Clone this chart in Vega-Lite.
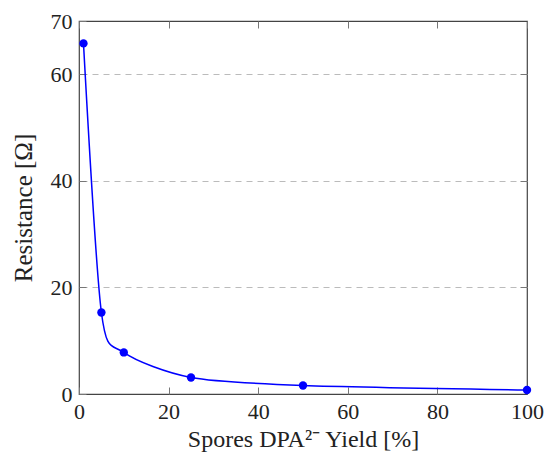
{
  "$schema": "https://vega.github.io/schema/vega-lite/v6.json",
  "width": 448,
  "height": 373,
  "autosize": "none",
  "padding": {"left": 79, "top": 21, "right": 17, "bottom": 60},
  "background": "white",
  "config": {
    "view": {"stroke": "#444444", "strokeWidth": 1.2},
    "font": "Liberation Serif"
  },
  "data": {
    "values": [
      {"yield": 1, "resistance": 65.8},
      {"yield": 5, "resistance": 15.3},
      {"yield": 10, "resistance": 7.8},
      {"yield": 25, "resistance": 3.1},
      {"yield": 50, "resistance": 1.6},
      {"yield": 100, "resistance": 0.75}
    ]
  },
  "layer": [
    {
      "mark": {"type": "line", "interpolate": "cardinal", "tension": 0.2, "color": "#0000ff", "strokeWidth": 1.5},
      "encoding": {
        "x": {
          "field": "yield", "type": "quantitative",
          "scale": {"domain": [0, 100], "nice": false},
          "axis": {"values": [0, 20, 40, 60, 80, 100], "grid": false, "domain": false, "tickColor": "#777777", "tickSize": -7, "labelFlush": false, "labelFont": "Liberation Serif", "titleFont": "Liberation Serif", "labelFontSize": 22, "titleFontSize": 24, "titleFontWeight": "normal", "labelColor": "#222222", "titleColor": "#222222", "title": "Spores DPA²⁻ Yield [%]", "labelPadding": 14, "titlePadding": 5}
        },
        "y": {
          "field": "resistance", "type": "quantitative",
          "scale": {"domain": [0, 70], "nice": false},
          "axis": {"values": [0, 20, 40, 60, 70], "grid": false, "domain": false, "tickColor": "#777777", "tickSize": -7, "labelFlush": false, "labelFont": "Liberation Serif", "titleFont": "Liberation Serif", "labelFontSize": 22, "titleFontSize": 25, "titleFontWeight": "normal", "labelColor": "#222222", "titleColor": "#222222", "title": "Resistance [Ω]", "labelPadding": 14, "titlePadding": 14}
        }
      }
    },
    {
      "mark": {"type": "circle", "color": "#0000ff", "size": 70, "opacity": 1},
      "encoding": {
        "x": {
          "field": "yield", "type": "quantitative",
          "scale": {"domain": [0, 100], "nice": false},
          "axis": {"orient": "top", "values": [0, 20, 40, 60, 80, 100], "labels": false, "grid": false, "domain": false, "tickColor": "#777777", "tickSize": -7, "title": null}
        },
        "y": {
          "field": "resistance", "type": "quantitative",
          "scale": {"domain": [0, 70], "nice": false},
          "axis": {"orient": "right", "values": [20, 40, 60], "labels": false, "grid": true, "gridColor": "#bbbbbb", "gridDash": [6, 5], "gridWidth": 1, "domain": false, "tickColor": "#777777", "tickSize": -7, "title": null}
        }
      }
    }
  ],
  "resolve": {"axis": {"x": "independent", "y": "independent"}}
}
